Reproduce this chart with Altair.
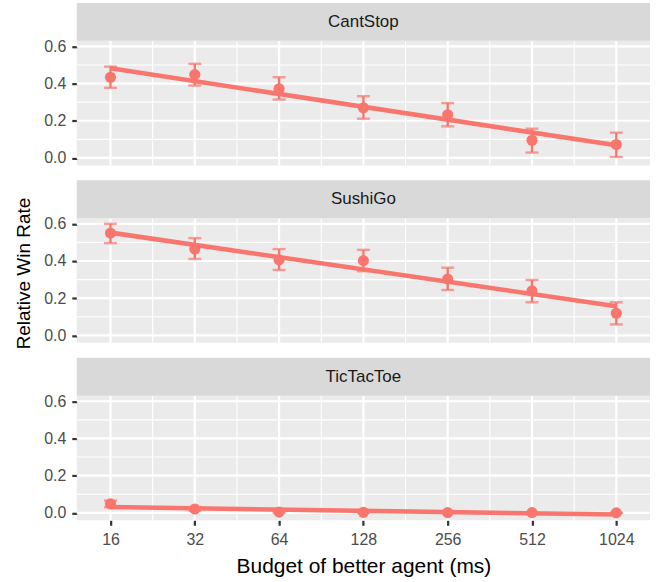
import altair as alt
import numpy as np
import pandas as pd

games = ["CantStop", "SushiGo", "TicTacToe"]
budgets = [16, 32, 64, 128, 256, 512, 1024]

cantstop_mean = [0.434, 0.448, 0.372, 0.270, 0.232, 0.095, 0.072]
cantstop_lo = [0.377, 0.389, 0.314, 0.211, 0.170, 0.029, 0.005]
cantstop_hi = [0.491, 0.506, 0.434, 0.332, 0.295, 0.157, 0.136]

sushigo_mean = [0.550, 0.464, 0.406, 0.402, 0.303, 0.239, 0.119]
sushigo_lo = [0.496, 0.411, 0.352, 0.345, 0.244, 0.178, 0.059]
sushigo_hi = [0.600, 0.523, 0.464, 0.460, 0.364, 0.298, 0.178]

tictactoe_mean = [0.048, 0.021, 0.004, 0.003, 0.001, 0.001, 0.000]
tictactoe_lo = [0.030, 0.012, 0.000, 0.000, 0.000, 0.000, 0.000]
tictactoe_hi = [0.066, 0.030, 0.008, 0.006, 0.002, 0.002, 0.000]

y_major = [0.0, 0.2, 0.4, 0.6]
y_minor = [0.1, 0.3, 0.5]
x_major = [4, 5, 6, 7, 8, 9, 10]          # log2 of budgets
x_minor = [4.5, 5.5, 6.5, 7.5, 8.5, 9.5]

series = {
    "CantStop": (cantstop_mean, cantstop_lo, cantstop_hi),
    "SushiGo": (sushigo_mean, sushigo_lo, sushigo_hi),
    "TicTacToe": (tictactoe_mean, tictactoe_lo, tictactoe_hi),
}
rows = []
for g in games:
    m, lo, hi = series[g]
    for b, mv, l, h in zip(budgets, m, lo, hi):
        rows.append({"game": g, "budget": b, "lb": float(np.log2(b)),
                     "mean": mv, "lo": l, "hi": h})
df = pd.DataFrame(rows)

COLOR = "#F8766D"
FONT = "Liberation Sans"
W, H = 575, 125
STRIP = 38
xscale = alt.Scale(domain=[3.6, 10.4], nice=False, zero=False)
yscale = alt.Scale(domain=[-0.04, 0.63], nice=False, zero=False)


def panel(game, ytitle, bottom):
    base = alt.Chart(df).transform_filter(alt.datum.game == game)
    if bottom:
        xaxis = alt.Axis(values=x_major, labelExpr="pow(2, datum.value)",
                         title="Budget of better agent (ms)", grid=False,
                         domain=False, tickSize=5, tickWidth=2.2,
                         tickColor="#333333", labelColor="#4D4D4D",
                         labelFontSize=16, labelFont=FONT, labelPadding=6,
                         titleFont=FONT, titleFontSize=21,
                         titleFontWeight="normal", titleColor="#000000",
                         titlePadding=8)
    else:
        xaxis = None
    ykw = dict(values=y_major, format=".1f", grid=False, domain=False,
               tickSize=5, tickWidth=2.2, tickColor="#333333",
               labelColor="#4D4D4D", labelFontSize=16, labelFont=FONT,
               labelPadding=6, titleFont=FONT, titleFontSize=19,
               titleFontWeight="normal", titleColor="#000000",
               titlePadding=10)
    if ytitle:
        yaxis = alt.Axis(title=ytitle, titleY=55, **ykw)
    else:
        yaxis = alt.Axis(title=None, **ykw)

    def X(f):
        return alt.X(f, scale=xscale, axis=xaxis)

    def Y(f):
        return alt.Y(f, scale=yscale, axis=yaxis)

    hmaj = alt.Chart(pd.DataFrame({"v": y_major})).mark_rule(
        color="white", strokeWidth=2.2).encode(y=Y("v:Q"))
    hmin = alt.Chart(pd.DataFrame({"v": y_minor})).mark_rule(
        color="white", strokeWidth=1.1).encode(y=Y("v:Q"))
    vmaj = alt.Chart(pd.DataFrame({"v": x_major})).mark_rule(
        color="white", strokeWidth=2.2).encode(x=X("v:Q"))
    vmin = alt.Chart(pd.DataFrame({"v": x_minor})).mark_rule(
        color="white", strokeWidth=1.1).encode(x=X("v:Q"))

    err = base.mark_rule(color=COLOR, strokeWidth=2.4).encode(
        x=X("lb:Q"), y=Y("lo:Q"), y2="hi:Q")
    cap_lo = base.mark_tick(color=COLOR, orient="horizontal", size=13,
                            thickness=2.4).encode(x=X("lb:Q"), y=Y("lo:Q"))
    cap_hi = base.mark_tick(color=COLOR, orient="horizontal", size=13,
                            thickness=2.4).encode(x=X("lb:Q"), y=Y("hi:Q"))
    pts = base.mark_circle(color=COLOR, size=125, opacity=1).encode(
        x=X("lb:Q"), y=Y("mean:Q"))
    fit = base.transform_regression("lb", "mean", method="linear").mark_line(
        color=COLOR, strokeWidth=4.6).encode(x=X("lb:Q"), y=Y("mean:Q"))

    sdata = pd.DataFrame({"game": [game]})
    strip = alt.Chart(sdata).mark_rect(color="#D9D9D9").encode(
        x=alt.value(0), x2=alt.value("width"),
        y=alt.value(-STRIP), y2=alt.value(0))
    stext = alt.Chart(sdata).mark_text(
        font=FONT, fontSize=17, color="#1A1A1A", baseline="middle",
        align="center").encode(
        text="game:N", x=alt.value(W / 2), y=alt.value(-STRIP / 2))

    return alt.layer(hmaj, hmin, vmaj, vmin, err, cap_lo, cap_hi, pts, fit,
                     strip, stext).properties(width=W, height=H)


p1 = panel("CantStop", None, False)
p2 = panel("SushiGo", "Relative Win Rate", False)
p3 = panel("TicTacToe", None, True)

chart = alt.vconcat(p1, p2, p3, spacing=15 + STRIP, bounds="flush").properties(
    padding={"left": 14, "top": 2, "right": 5, "bottom": 5},
    background="white",
).configure_view(fill="#EBEBEB", strokeWidth=0)

chart.save("out.html", embed_options={"renderer": "svg", "actions": False})
